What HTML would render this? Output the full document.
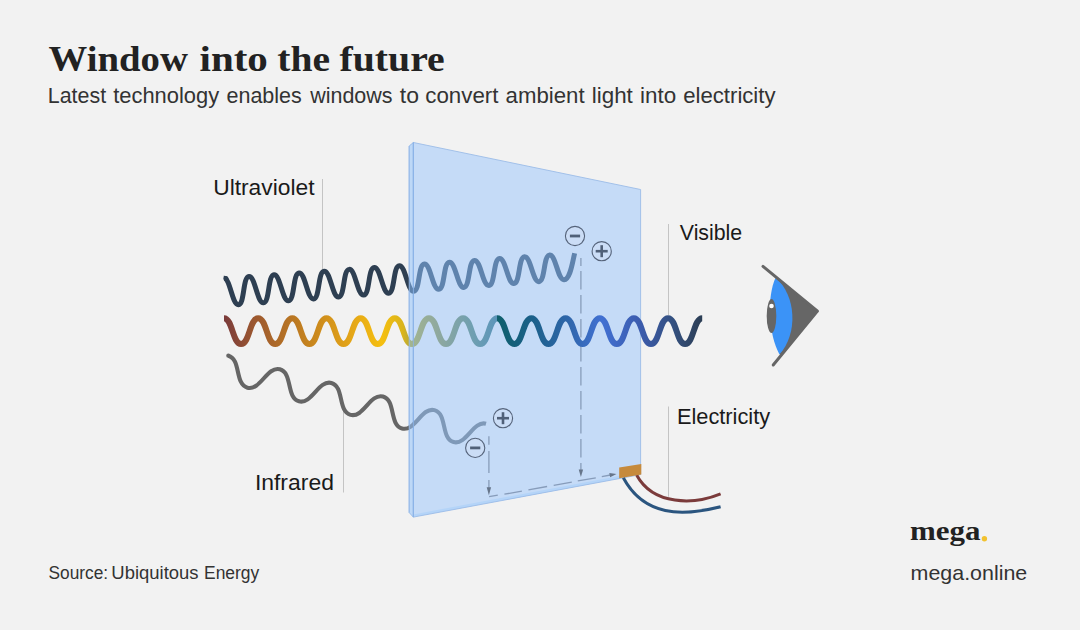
<!DOCTYPE html>
<html><head><meta charset="utf-8"><title>Window into the future</title>
<style>
html,body{margin:0;padding:0;background:#f2f2f2;}
body{width:1080px;height:630px;overflow:hidden;font-family:"Liberation Sans",sans-serif;}
svg{display:block}
.serif{font-family:"Liberation Serif",serif;font-weight:bold}
.sans{font-family:"Liberation Sans",sans-serif}
</style></head><body>
<svg width="1080" height="630" viewBox="0 0 1080 630">
<defs>
<linearGradient id="gvis" gradientUnits="userSpaceOnUse" x1="224" y1="0" x2="702" y2="0">
<stop offset="0" stop-color="#7a3b3b"/>
<stop offset="0.06" stop-color="#9a5630"/>
<stop offset="0.16" stop-color="#c07d20"/>
<stop offset="0.26" stop-color="#e2a318"/>
<stop offset="0.33" stop-color="#f5bf10"/>
<stop offset="0.375" stop-color="#d9b41c"/>
<stop offset="0.3877" stop-color="#b9aa38"/>
<stop offset="0.3877" stop-color="#a3b58f"/>
<stop offset="0.45" stop-color="#8ea89f"/>
<stop offset="0.52" stop-color="#6f9fb1"/>
<stop offset="0.5715" stop-color="#5c95ba"/>
<stop offset="0.5715" stop-color="#0f5f6b"/>
<stop offset="0.64" stop-color="#1a6088"/>
<stop offset="0.72" stop-color="#2f66aa"/>
<stop offset="0.79" stop-color="#4170d2"/>
<stop offset="0.87" stop-color="#3c5cae"/>
<stop offset="0.94" stop-color="#34507f"/>
<stop offset="1" stop-color="#2c3e55"/>
</linearGradient>
<linearGradient id="guv" gradientUnits="userSpaceOnUse" x1="224" y1="0" x2="575" y2="0">
<stop offset="0" stop-color="#2e3f52"/>
<stop offset="0.5279" stop-color="#2e3f52"/>
<stop offset="0.5279" stop-color="#5f83ad"/>
<stop offset="1" stop-color="#5f83ad"/>
</linearGradient>
<linearGradient id="gir" gradientUnits="userSpaceOnUse" x1="228" y1="0" x2="486" y2="0">
<stop offset="0" stop-color="#666666"/>
<stop offset="0.7027" stop-color="#666666"/>
<stop offset="0.7027" stop-color="#7f99b8"/>
<stop offset="1" stop-color="#7f99b8"/>
</linearGradient>
</defs>
<rect width="1080" height="630" fill="#f2f2f2"/>

<!-- title -->
<text class="serif" x="48.60" y="70.5" font-size="36.6" fill="#222222" textLength="139.38" lengthAdjust="spacingAndGlyphs">Window</text>
<text class="serif" x="199.50" y="70.5" font-size="36.6" fill="#222222" textLength="68.34" lengthAdjust="spacingAndGlyphs">into</text>
<text class="serif" x="277.30" y="70.5" font-size="36.6" fill="#222222" textLength="52.75" lengthAdjust="spacingAndGlyphs">the</text>
<text class="serif" x="339.50" y="70.5" font-size="36.6" fill="#222222" textLength="105.26" lengthAdjust="spacingAndGlyphs">future</text>
<text class="sans" x="47.80" y="102.7" font-size="21.4" fill="#333333" textLength="58.34" lengthAdjust="spacingAndGlyphs">Latest</text>
<text class="sans" x="113.20" y="102.7" font-size="21.4" fill="#333333" textLength="105.99" lengthAdjust="spacingAndGlyphs">technology</text>
<text class="sans" x="226.50" y="102.7" font-size="21.4" fill="#333333" textLength="75.30" lengthAdjust="spacingAndGlyphs">enables</text>
<text class="sans" x="310.20" y="102.7" font-size="21.4" fill="#333333" textLength="82.39" lengthAdjust="spacingAndGlyphs">windows</text>
<text class="sans" x="399.80" y="102.7" font-size="21.4" fill="#333333" textLength="19.16" lengthAdjust="spacingAndGlyphs">to</text>
<text class="sans" x="425.30" y="102.7" font-size="21.4" fill="#333333" textLength="73.14" lengthAdjust="spacingAndGlyphs">convert</text>
<text class="sans" x="505.60" y="102.7" font-size="21.4" fill="#333333" textLength="79.04" lengthAdjust="spacingAndGlyphs">ambient</text>
<text class="sans" x="591.75" y="102.7" font-size="21.4" fill="#333333" textLength="41.09" lengthAdjust="spacingAndGlyphs">light</text>
<text class="sans" x="639.95" y="102.7" font-size="21.4" fill="#333333" textLength="36.19" lengthAdjust="spacingAndGlyphs">into</text>
<text class="sans" x="683.30" y="102.7" font-size="21.4" fill="#333333" textLength="92.18" lengthAdjust="spacingAndGlyphs">electricity</text>

<!-- glass -->
<polygon points="409.2,146 413.4,142.5 413.4,517.1 409.2,512.6" fill="#bdd8f7" stroke="#98bcea" stroke-width="1" stroke-linejoin="round"/>
<polygon points="413.4,142.5 640.6,189.5 640.6,474.6 413.4,517.1" fill="#c5dbf7"/>
<polygon points="413.4,514.4 640.6,471.9 640.6,474.6 413.4,517.1" fill="#b4d4f8"/>
<polygon points="413.4,142.5 640.6,189.5 640.6,474.6 413.4,517.1" fill="none" stroke="#9cbce8" stroke-width="0.9" stroke-linejoin="round"/>
<line x1="413.4" y1="142.5" x2="413.4" y2="517.1" stroke="#8cb4e8" stroke-width="1"/>

<!-- leader lines -->
<g stroke="#c4c4c4" stroke-width="1">
<line x1="322.5" y1="179" x2="322.5" y2="269"/>
<line x1="343.5" y1="405.5" x2="343.5" y2="492.5"/>
<line x1="668.5" y1="224" x2="668.5" y2="315"/>
<line x1="668.5" y1="406.5" x2="668.5" y2="496.7"/>
</g>

<!-- dashed paths -->
<g stroke="#879cba" stroke-width="1.3" fill="none">
<line x1="580.9" y1="258.0" x2="580.9" y2="266.1"/><line x1="580.9" y1="271.1" x2="580.9" y2="289.40000000000003"/><line x1="580.9" y1="295.1" x2="580.9" y2="313.40000000000003"/><line x1="580.9" y1="319.1" x2="580.9" y2="337.40000000000003"/><line x1="580.9" y1="343.1" x2="580.9" y2="361.40000000000003"/><line x1="580.9" y1="367.1" x2="580.9" y2="385.40000000000003"/><line x1="580.9" y1="391.1" x2="580.9" y2="409.40000000000003"/><line x1="580.9" y1="415.1" x2="580.9" y2="433.40000000000003"/><line x1="580.9" y1="439.1" x2="580.9" y2="457.40000000000003"/><line x1="580.9" y1="463.1" x2="580.9" y2="470.5"/>
<line x1="488.9" y1="436.2" x2="488.9" y2="444.7"/><line x1="488.9" y1="451.0" x2="488.9" y2="473.0"/><line x1="488.9" y1="479.9" x2="488.9" y2="488.0"/>
<line x1="489.1" y1="496.7" x2="497.8" y2="495.1"/><line x1="504.4" y1="494.2" x2="521.9" y2="491.2"/><line x1="528.4" y1="489.9" x2="547.1" y2="486.5"/><line x1="553.7" y1="485.4" x2="571.8" y2="482.1"/><line x1="577.8" y1="480.9" x2="595.8" y2="477.8"/><line x1="601.8" y1="476.6" x2="610.5" y2="475.0"/>
</g>
<g fill="#66758a">
<polygon points="578.7,469.5 583.1,469.5 580.9,477"/>
<polygon points="486.7,487.3 491.1,487.3 488.9,495.3"/>
<polygon points="609.3,473.1 610.1,477.2 616.5,474"/>
</g>

<!-- waves -->
<path d="M223.89,278.34 C230.15,277.87 232.17,305.17 238.44,304.70 C244.70,304.24 242.68,277.01 248.94,276.54 C255.20,276.08 257.22,303.24 263.48,302.78 C269.74,302.32 267.73,275.22 274.00,274.75 C280.26,274.29 282.26,301.32 288.53,300.86 C294.79,300.40 292.79,273.42 299.05,272.96 C305.31,272.49 307.31,299.40 313.57,298.94 C319.83,298.47 317.84,271.63 324.11,271.17 C330.37,270.70 332.35,297.48 338.62,297.02 C344.88,296.55 342.90,269.84 349.16,269.37 C355.42,268.91 357.40,295.56 363.66,295.10 C369.92,294.63 367.95,268.04 374.22,267.58 C380.48,267.12 382.44,293.64 388.71,293.17 C394.97,292.71 393.01,266.25 399.27,265.79 C405.53,265.32 407.49,291.72 413.75,291.25 C420.01,290.79 418.06,264.46 424.33,263.99 C430.59,263.53 432.54,289.80 438.80,289.33 C445.06,288.87 443.12,262.66 449.38,262.20 C455.64,261.74 457.58,287.87 463.84,287.41 C470.11,286.95 468.17,260.87 474.43,260.41 C480.70,259.94 482.63,285.95 488.89,285.49 C495.15,285.03 493.23,259.08 499.49,258.61 C505.75,258.15 507.67,284.03 513.93,283.57 C520.20,283.10 518.28,257.29 524.54,256.82 C530.81,256.36 532.72,282.11 538.98,281.65 C545.24,281.18 543.34,255.49 549.60,255.03 C555.86,254.56 557.76,280.19 564.02,279.73 C570.29,279.26 572.51,261.74 574.65,253.24" fill="none" stroke="url(#guv)" stroke-width="5" stroke-linecap="butt" stroke-linejoin="round"/>
<circle cx="225.9" cy="278.4" r="2.5" fill="#2e3f52"/>
<path d="M224.00,318.20 C232.54,318.20 232.54,344.00 241.08,344.00 C249.62,344.00 249.62,318.20 258.16,318.20 C266.70,318.20 266.70,344.00 275.24,344.00 C283.77,344.00 283.77,318.20 292.31,318.20 C300.85,318.20 300.85,344.00 309.39,344.00 C317.93,344.00 317.93,318.20 326.47,318.20 C335.01,318.20 335.01,344.00 343.55,344.00 C352.09,344.00 352.09,318.20 360.63,318.20 C369.17,318.20 369.17,344.00 377.71,344.00 C386.25,344.00 386.25,318.20 394.79,318.20 C403.32,318.20 403.33,344.00 411.86,344.00 C420.40,344.00 420.40,318.20 428.94,318.20 C437.48,318.20 437.48,344.00 446.02,344.00 C454.56,344.00 454.56,318.20 463.10,318.20 C471.64,318.20 471.64,344.00 480.18,344.00 C488.72,344.00 488.72,318.20 497.26,318.20 C505.80,318.20 505.80,344.00 514.34,344.00 C522.88,344.00 522.88,318.20 531.41,318.20 C539.95,318.20 539.95,344.00 548.49,344.00 C557.03,344.00 557.03,318.20 565.57,318.20 C574.11,318.20 574.11,344.00 582.65,344.00 C591.19,344.00 591.19,318.20 599.73,318.20 C608.27,318.20 608.27,344.00 616.81,344.00 C625.35,344.00 625.35,318.20 633.89,318.20 C642.42,318.20 642.42,344.00 650.96,344.00 C659.50,344.00 659.50,318.20 668.04,318.20 C676.58,318.20 676.58,344.00 685.12,344.00 C693.66,344.00 693.66,318.20 702.20,318.20" fill="none" stroke="url(#gvis)" stroke-width="6" stroke-linecap="butt" stroke-linejoin="round"/>
<path d="M228.32,355.73 C241.20,359.13 234.57,384.27 247.45,387.67 C260.34,391.07 266.97,365.93 279.86,369.33 C292.74,372.73 286.11,397.87 298.99,401.27 C311.88,404.67 318.51,379.53 331.40,382.93 C344.28,386.33 337.65,411.47 350.53,414.87 C363.42,418.27 370.05,393.13 382.94,396.53 C395.82,399.93 389.19,425.07 402.07,428.47 C414.96,431.87 421.59,406.73 434.48,410.13 C447.36,413.53 440.73,438.67 453.61,442.07 C466.50,445.47 473.13,420.33 486.02,423.73" fill="none" stroke="url(#gir)" stroke-width="4.1" stroke-linecap="butt" stroke-linejoin="round"/>
<circle cx="228.3" cy="355.7" r="2.1" fill="#666666"/>

<g stroke-width="1" opacity="0.85"><line x1="409.2" y1="146" x2="409.2" y2="512.6" stroke="#98bcea"/><line x1="413.4" y1="142.5" x2="413.4" y2="517.1" stroke="#8cb4e8"/></g>
<!-- charges -->
<g fill="#cbddf6" stroke="#55637a" stroke-width="1.1">
<circle cx="575" cy="236" r="9.6"/>
<circle cx="601.7" cy="251.2" r="9.6"/>
<circle cx="503" cy="418.2" r="9.6"/>
<circle cx="475.2" cy="447.9" r="9.6"/>
</g>
<g stroke="#506078" stroke-width="2.6" stroke-linecap="butt">
<line x1="569.9" y1="236" x2="580.1" y2="236" stroke-width="2.8"/>
<line x1="595.7" y1="251.2" x2="607.7" y2="251.2"/><line x1="601.7" y1="245.2" x2="601.7" y2="257.2"/>
<line x1="497" y1="418.2" x2="509" y2="418.2"/><line x1="503" y1="412.2" x2="503" y2="424.2"/>
<line x1="470.1" y1="447.9" x2="480.3" y2="447.9" stroke-width="2.8"/>
</g>

<!-- contact + wires -->
<path d="M636.6,475 C653.4,505.8 693.9,504.8 720.6,493.9" fill="none" stroke="#7b3b3b" stroke-width="3"/>
<path d="M623.3,477.8 C644.2,516.6 681.8,516.5 720.6,506.7" fill="none" stroke="#2b557f" stroke-width="3"/>
<polygon points="619.2,467.6 641.3,464 641.3,474.4 619.2,478.3" fill="#c68a3c"/>

<!-- eye -->
<g>
<polygon points="776.5,277.5 817.6,311.2 780,357" fill="#666666"/>
<path d="M775.7,277.6 C796.5,296 798,334 779.5,354.6 C768.5,335 766.5,297 775.7,277.6Z" fill="#3b93f7"/>
<line x1="763" y1="266.4" x2="817.2" y2="311" stroke="#666666" stroke-width="3" stroke-linecap="round"/>
<line x1="773.2" y1="365" x2="817.2" y2="311.4" stroke="#666666" stroke-width="3" stroke-linecap="round"/>
<ellipse cx="771.5" cy="316.1" rx="4.8" ry="17" fill="#666666"/>
<circle cx="771.5" cy="306" r="2.3" fill="#ffffff"/>
</g>

<!-- labels -->
<g class="sans" font-size="22" fill="#1a1a1a">
<text x="213.2" y="194.8" textLength="101.3" lengthAdjust="spacingAndGlyphs">Ultraviolet</text>
<text x="254.9" y="490.1" textLength="79" lengthAdjust="spacingAndGlyphs">Infrared</text>
<text x="679.8" y="240.1" textLength="62.4" lengthAdjust="spacingAndGlyphs">Visible</text>
<text x="676.9" y="424.1" textLength="93.2" lengthAdjust="spacingAndGlyphs">Electricity</text>
</g>

<!-- footer -->
<text class="sans" x="48.50" y="578.7" font-size="18" fill="#333333" textLength="59.56" lengthAdjust="spacingAndGlyphs">Source:</text>
<text class="sans" x="111.37" y="578.7" font-size="18" fill="#333333" textLength="87.23" lengthAdjust="spacingAndGlyphs">Ubiquitous</text>
<text class="sans" x="204.03" y="578.7" font-size="18" fill="#333333" textLength="55.27" lengthAdjust="spacingAndGlyphs">Energy</text>
<text class="serif" x="910" y="539.6" font-size="26.5" fill="#222222" textLength="70.5" lengthAdjust="spacingAndGlyphs">mega</text>
<circle cx="984.4" cy="538.7" r="2.7" fill="#f2c230"/>
<text class="sans" x="910.6" y="579.7" font-size="20.3" fill="#333333" textLength="116.6" lengthAdjust="spacingAndGlyphs">mega.online</text>
</svg>
</body></html>
